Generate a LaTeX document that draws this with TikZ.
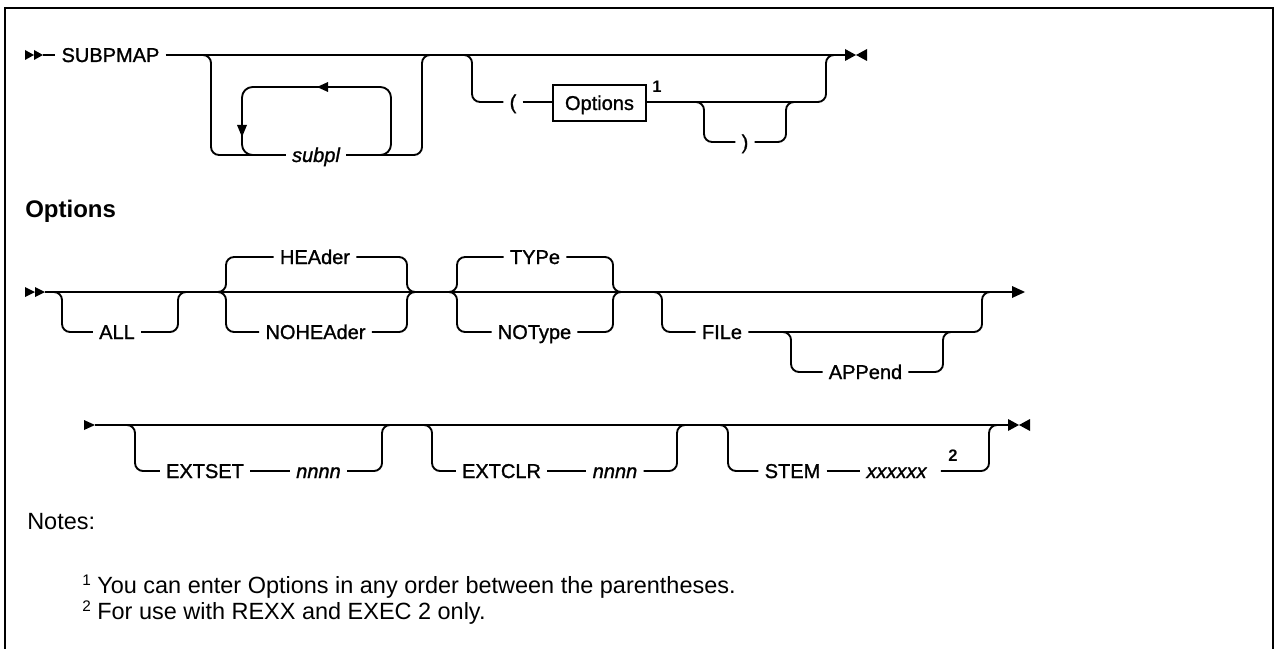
\documentclass[tikz,border=0pt]{standalone}
\usepackage{fontspec}
\setmainfont{Liberation Sans}
\newfontfamily\kwfam[BoldFont={Liberation Sans}, BoldItalicFont={Liberation Sans Italic}, BoldFeatures={FakeBold=1.2}, BoldItalicFeatures={FakeBold=1.2}]{Liberation Sans}
\newcommand\kwf{\kwfam\bfseries\fontsize{15pt}{18pt}\selectfont}
\newcommand\kwi{\kwfam\bfseries\itshape\fontsize{15pt}{18pt}\selectfont}
\newcommand\supf{\bfseries\fontsize{12.5pt}{15pt}\selectfont}
\newcommand\notef{\fontsize{17.6pt}{21pt}\selectfont}
\newcommand\headf{\bfseries\fontsize{18pt}{21pt}\selectfont}
\newcommand\nsup[1]{\raisebox{6pt}{\fontsize{11.5pt}{12pt}\selectfont #1}}
\tikzset{
  ln/.style={line width=1.4pt, rounded corners=6pt},
  loopln/.style={line width=1.4pt, rounded corners=8pt},
  kw/.style={font=\kwf, inner xsep=4.5pt, inner ysep=0pt, text height=10.5pt, text depth=0pt},
  kwit/.style={kw, font=\kwi},
  optbox/.style={kw, draw, line width=1.1pt, minimum width=69.75pt, minimum height=27pt},
  supnode/.style={font=\supf, inner sep=0pt},
  tipfill/.style={fill=black},
  frameln/.style={line width=1.9pt},
  notetext/.style={font=\notef, inner sep=0pt, anchor=base west}
}
\begin{document}
\begin{tikzpicture}[x=0.75pt,y=-0.75pt]
\useasboundingbox (0,0) rectangle (1274,649);
% frame
\draw[frameln] (5,652) -- (5,8) -- (1273,8) -- (1273,652);

% ================= Row 1 =================
\fill[tipfill] (25,50) -- (34,55) -- (25,60) -- cycle;
\fill[tipfill] (34,50) -- (43,55) -- (34,60) -- cycle;
\coordinate (r1s) at (43,55);
\node[kw] (subpmap) at (110.5,55) {SUBPMAP};
\coordinate (r1e) at (845,55);
\draw[ln] (r1s) -- (subpmap.west);
\draw[ln] (subpmap.east) -- (r1e);
\fill[tipfill] (845,49) -- (856,55) -- (845,61) -- cycle;
\fill[tipfill] (867,49) -- (856,55) -- (867,61) -- cycle;

% bracket with repeat loop
\node[kwit] (subpl) at (316,155) {subpl};
\draw[ln] (195,55) -- (211,55) -- (211,155) -- (subpl.west);
\draw[ln] (subpl.east) -- (422,155) -- (422,55) -- (438,55);
\draw[loopln] (375,155) -- (391,155) -- (391,87) -- (242,87) -- (242,155) -- (260,155);
\fill[tipfill] (317,87) -- (328,82) -- (328,92) -- cycle;
\fill[tipfill] (242,137) -- (237,125) -- (247,125) -- cycle;

% options in parentheses
\node[kw] (lp) at (513,102) {(};
\node[optbox] (opt) at (599.5,103) {Options};
\node[supnode] (sup1) at (657,87) {1};
\node[kw] (rp) at (745,142) {)};
\draw[ln] (456,55) -- (472,55) -- (472,102) -- (lp.west);
\draw[ln] (lp.east) -- (opt.west |- lp.east);
\draw[ln] (opt.east |- lp.east) -- (826,102) -- (826,55) -- (842,55);
\draw[ln] (688,102) -- (704,102) -- (704,142) -- (rp.west);
\draw[ln] (rp.east) -- (786,142) -- (786,102) -- (802,102);

% ================= Options heading =================
\node[anchor=base west, inner sep=0pt, font=\headf] (opthead) at (25,217) {Options};

% ================= Row 2 =================
\fill[tipfill] (25,287) -- (35,292) -- (25,297) -- cycle;
\fill[tipfill] (35,287) -- (45,292) -- (35,297) -- cycle;
\coordinate (r2s) at (45,292);
\coordinate (r2e) at (1012,292);
\draw[ln] (r2s) -- (r2e);
\fill[tipfill] (1012,286) -- (1025,292) -- (1012,298) -- cycle;

\node[kw] (all) at (117,332) {ALL};
\draw[ln] (46,292) -- (62,292) -- (62,332) -- (all.west);
\draw[ln] (all.east) -- (178,332) -- (178,292) -- (194,292);

\node[kw] (header) at (315,257) {HEAder};
\node[kw] (noheader) at (315.5,332) {NOHEAder};
\draw[ln] (header.west) -- (226,257) -- (226,292) -- (210,292);
\draw[ln] (noheader.west) -- (226,332) -- (226,292) -- (210,292);
\draw[ln] (header.east) -- (407,257) -- (407,292) -- (423,292);
\draw[ln] (noheader.east) -- (407,332) -- (407,292) -- (423,292);

\node[kw] (type) at (535,257) {TYPe};
\node[kw] (notype) at (534.5,332) {NOType};
\draw[ln] (type.west) -- (457,257) -- (457,292) -- (441,292);
\draw[ln] (notype.west) -- (457,332) -- (457,292) -- (441,292);
\draw[ln] (type.east) -- (613,257) -- (613,292) -- (629,292);
\draw[ln] (notype.east) -- (613,332) -- (613,292) -- (629,292);

\node[kw] (file) at (722,332) {FILe};
\draw[ln] (646,292) -- (662,292) -- (662,332) -- (file.west);
\draw[ln] (file.east) -- (982,332) -- (982,292) -- (998,292);

\node[kw] (append) at (865.5,372) {APPend};
\draw[ln] (775,332) -- (791,332) -- (791,372) -- (append.west);
\draw[ln] (append.east) -- (943,372) -- (943,332) -- (959,332);

% ================= Row 3 =================
\fill[tipfill] (84,420) -- (95,425) -- (84,430) -- cycle;
\coordinate (r3s) at (95,425);
\coordinate (r3e) at (1008,425);
\draw[ln] (r3s) -- (r3e);
\fill[tipfill] (1008,419) -- (1019,425) -- (1008,431) -- cycle;
\fill[tipfill] (1030,419) -- (1019,425) -- (1030,431) -- cycle;

\node[kw] (extset) at (205,471) {EXTSET};
\node[kwit] (nn1) at (318.5,471) {nnnn};
\draw[ln] (119,425) -- (135,425) -- (135,471) -- (extset.west);
\draw[ln] (extset.east) -- (nn1.west);
\draw[ln] (nn1.east) -- (382,471) -- (382,425) -- (398,425);

\node[kw] (extclr) at (501.5,471) {EXTCLR};
\node[kwit] (nn2) at (615,471) {nnnn};
\draw[ln] (416,425) -- (432,425) -- (432,471) -- (extclr.west);
\draw[ln] (extclr.east) -- (nn2.west);
\draw[ln] (nn2.east) -- (677,471) -- (677,425) -- (693,425);

\node[kw] (stem) at (792.5,471) {STEM};
\node[kwit] (xx) at (896.5,471) {xxxxxx};
\node[supnode] (sup2) at (953,456) {2};
\draw[ln] (712,425) -- (728,425) -- (728,471) -- (stem.west);
\draw[ln] (stem.east) -- (xx.west);
\draw[ln] ([xshift=6pt]xx.east) -- (989,471) -- (989,425) -- (1005,425);

% ================= Notes =================
\node[notetext] (notes) at (27,529) {Notes:};
\node[notetext] (note1) at (82,593) {\nsup{1} You can enter Options in any order between the parentheses.};
\node[notetext] (note2) at (82,619) {\nsup{2} For use with REXX and EXEC 2 only.};
\end{tikzpicture}
\end{document}
